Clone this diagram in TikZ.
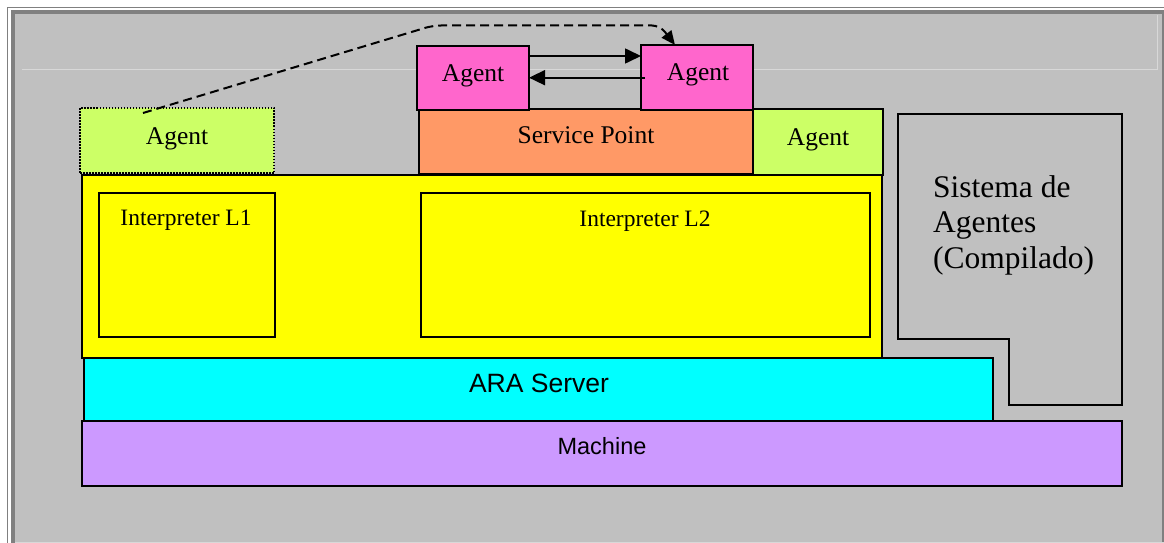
\documentclass[tikz,border=0pt]{standalone}
\usepackage{fontspec}
\setmainfont{Liberation Serif}
\newfontfamily\arialfont{Liberation Sans}
\usetikzlibrary{arrows.meta,calc}

\definecolor{panelgray}{HTML}{C0C0C0}
\definecolor{framegray}{HTML}{808080}
\definecolor{faintline}{HTML}{D8D8D8}
\definecolor{agentgreen}{HTML}{CCFF66}
\definecolor{agentpink}{HTML}{FF66CC}
\definecolor{spoint}{HTML}{FF9966}
\definecolor{corey}{HTML}{FFFF00}
\definecolor{araserv}{HTML}{00FFFF}
\definecolor{machcol}{HTML}{CC99FF}

\begin{document}
\begin{tikzpicture}[x=1pt,y=-1pt,
  blk/.style={draw=black,line width=2pt,inner sep=0pt,outer sep=0pt,anchor=north west},
  lbl/.style={inner sep=0pt,anchor=base,font=\fontsize{25.5}{30}\selectfont},
  lblsmall/.style={inner sep=0pt,anchor=base,font=\fontsize{23.5}{28}\selectfont},
  lblbig/.style={inner sep=0pt,anchor=base west,font=\fontsize{31.5}{36}\selectfont},
  msg/.style={line width=1.6pt,-{Triangle[length=16pt,width=15pt]}},
  migrate/.style={line width=2pt,dash pattern=on 9pt off 5pt,rounded corners=8pt,
                  -{Triangle[length=14pt,width=12pt]}}]

% page and window frame
\useasboundingbox (0,0) rectangle (1164,543);
\fill[white] (0,0) rectangle (1164,543);
\draw[framegray,line width=1.3pt] (7.5,7.5) -- (7.5,560);
\draw[framegray,line width=1.3pt] (7.5,7.5) -- (1170,7.5);
\fill[framegray] (11,10) rectangle (1164,560);
\fill[panelgray] (15,14) rectangle (1161.5,541.5);
\draw[faintline,line width=1pt] (15,542.3) -- (1164,542.3);
\draw[faintline,line width=1pt] (22,70) -- (1157,70) -- (1157,15);

% machine and ARA server layers
\node[blk,fill=machcol,minimum width=1040pt,minimum height=65pt] (mach) at (82,421) {};
\node[blk,fill=araserv,minimum width=909pt,minimum height=63pt] (ara) at (84,358) {};

% interpreter layer
\node[blk,fill=corey,minimum width=800pt,minimum height=183pt] (core) at (82,175) {};
\node[blk,fill=corey,minimum width=176pt,minimum height=144pt,line width=1.7pt] (int1) at (99,193) {};
\node[blk,fill=corey,minimum width=449pt,minimum height=144pt,line width=1.7pt] (int2) at (421,193) {};

% service point and agents
\node[blk,fill=spoint,minimum width=334pt,minimum height=65pt] (sp) at (419,109) {};
\node[blk,fill=agentgreen,minimum width=130pt,minimum height=66pt] (agG2) at (753,109) {};
\node[blk,fill=agentgreen,minimum width=194pt,minimum height=65pt,line width=2pt,
      dash pattern=on 1.5pt off 1.5pt] (agG1) at (80,108) {};
\node[blk,fill=agentpink,minimum width=112pt,minimum height=64pt] (agP1) at (417,46) {};
\node[blk,fill=agentpink,minimum width=112pt,minimum height=65pt] (agP2) at (641,45) {};

% compiled agent system
\draw[line width=2pt,join=miter] (898,114) -- (1121.5,114) -- (1121.5,405) -- (1009,405)
  -- (1009,339) -- (898,339) -- cycle;
\node[lblbig] (sis1) at (933,197) {Sistema de};
\node[lblbig] (sis2) at (933,232.7) {Agentes};
\node[lblbig] (sis3) at (933,268.4) {(Compilado)};

% labels
\node[lbl] (tG1) at (177,144) {Agent};
\node[lbl] (tG2) at (818,145) {Agent};
\node[lbl] (tP1) at (473,81.7) {Agent};
\node[lbl] (tP2) at (698,81) {Agent};
\node[lbl] (tSP) at (586,143) {Service Point};
\node[lblsmall] (tI1) at (186,225.7) {Interpreter L1};
\node[lblsmall] (tI2) at (645,226.7) {Interpreter L2};
\node[lbl,font=\arialfont\fontsize{26.5}{30}\selectfont] (tARA) at (539,392.3) {ARA Server};
\node[lblsmall,font=\arialfont\fontsize{23.5}{28}\selectfont] (tM) at (602,454) {Machine};

% messages between agents
\coordinate (hiY) at (0,56);
\coordinate (loY) at (0,77.7);
\draw[msg] (agP1.east |- hiY) -- (agP2.west |- hiY);
\draw[msg] ($(agP2.west |- loY)+(4,0)$) -- (agP1.east |- loY);

% agent migration
\coordinate (mStart) at (agG1.north -| 143,0);
\coordinate (mTip) at (675,45);
\draw[migrate] ($(mStart)+(0,5)$) -- (433,25.5) -- (660,25.5) -- (mTip);
\end{tikzpicture}
\end{document}
